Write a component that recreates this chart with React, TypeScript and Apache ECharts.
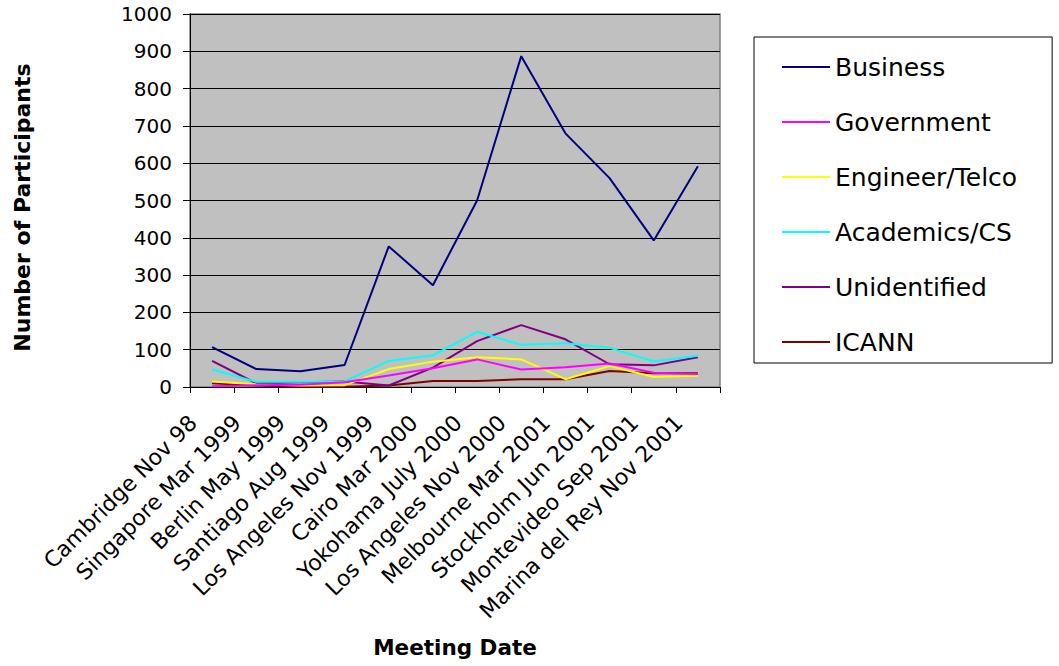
import React, { useEffect, useRef } from "react";
import * as echarts from "echarts";

const categories = [
  "Cambridge Nov 98",
  "Singapore Mar 1999",
  "Berlin May 1999",
  "Santiago Aug 1999",
  "Los Angeles Nov 1999",
  "Cairo Mar 2000",
  "Yokohama July 2000",
  "Los Angeles Nov 2000",
  "Melbourne Mar 2001",
  "Stockholm Jun 2001",
  "Montevideo Sep 2001",
  "Marina del Rey Nov 2001",
];

const business = [107, 48, 42, 59, 377, 273, 500, 887, 680, 560, 393, 592];
const government = [2, 5, 6, 13, 31, 50, 74, 47, 53, 63, 38, 35];
const engineerTelco = [15, 7, 4, 5, 48, 68, 80, 74, 21, 56, 27, 30];
const academicsCS = [47, 14, 14, 15, 70, 85, 148, 113, 117, 105, 69, 84];
const unidentified = [70, 10, 13, 15, 4, 52, 123, 166, 128, 61, 58, 80];
const icann = [10, 4, 1, 1, 4, 16, 16, 21, 21, 43, 37, 37];

const seriesNames = [
  "Business",
  "Government",
  "Engineer/Telco",
  "Academics/CS",
  "Unidentified",
  "ICANN",
];
const seriesColors = ["#000080", "#FF00FF", "#FFFF00", "#00FFFF", "#800080", "#800000"];
const seriesData = [business, government, engineerTelco, academicsCS, unidentified, icann];

const yTicks = { min: 0, max: 1000, interval: 100 };

const FONT = "'DejaVu Sans', Verdana, sans-serif";

export default function App() {
  const ref = useRef<HTMLDivElement>(null);

  useEffect(() => {
    if (!ref.current) return;
    const chart = echarts.init(ref.current, undefined, { renderer: "svg" });
    chart.setOption({
      animation: false,
      backgroundColor: "#ffffff",
      textStyle: { fontFamily: FONT },
      grid: {
        left: 190,
        top: 14,
        right: 339,
        bottom: 279,
        show: true,
        backgroundColor: "#c0c0c0",
        borderColor: "#808080",
        borderWidth: 1.5,
        containLabel: false,
      },
      legend: {
        orient: "vertical",
        left: 754,
        top: 37,
        padding: [15, 35, 6, 28],
        itemGap: 25,
        itemWidth: 48,
        itemHeight: 2,
        icon: "path://M0 0 H48 V2 H0 Z",
        borderColor: "#000000",
        borderWidth: 1,
        data: seriesNames,
        textStyle: { fontSize: 25, lineHeight: 30, color: "#000000", fontFamily: FONT },
      },
      xAxis: {
        type: "category",
        data: categories,
        boundaryGap: true,
        name: "Meeting Date",
        nameLocation: "middle",
        nameGap: 249,
        nameTextStyle: { fontSize: 21.5, fontWeight: "bold", color: "#000000", fontFamily: FONT },
        axisLine: { show: true, lineStyle: { color: "#000000", width: 1 } },
        axisTick: { show: true, length: 6, alignWithLabel: false, lineStyle: { color: "#000000" } },
        splitLine: { show: false },
        axisLabel: {
          rotate: 45,
          interval: 0,
          fontSize: 22,
          color: "#000000",
          fontFamily: FONT,
          margin: 13,
          align: "right",
          verticalAlign: "middle",
          padding: [0, 27, 0, 0],
        },
      },
      yAxis: {
        type: "value",
        min: yTicks.min,
        max: yTicks.max,
        interval: yTicks.interval,
        name: "Number of Participants",
        nameLocation: "middle",
        nameGap: 157,
        nameTextStyle: {
          fontSize: 22,
          fontWeight: "bold",
          color: "#000000",
          fontFamily: FONT,
          padding: [0, 14, 0, 0],
        },
        axisLine: { show: true, lineStyle: { color: "#000000", width: 1 } },
        axisTick: { show: true, length: 7, lineStyle: { color: "#000000" } },
        splitLine: { show: true, lineStyle: { color: "#000000", width: 1 } },
        axisLabel: {
          fontSize: 20,
          color: "#000000",
          margin: 18,
          fontFamily: FONT,
          formatter: (v: number) => String(v),
        },
      },
      series: seriesNames.map((name, i) => ({
        name,
        type: "line",
        data: seriesData[i],
        symbol: "none",
        showSymbol: false,
        lineStyle: { color: seriesColors[i], width: 2 },
        itemStyle: { color: seriesColors[i] },
        z: 10 - i,
      })),
    });
    return () => chart.dispose();
  }, []);

  return (
    <div
      ref={ref}
      style={{ position: "fixed", left: 0, top: 0, width: 1059, height: 666 }}
    />
  );
}
